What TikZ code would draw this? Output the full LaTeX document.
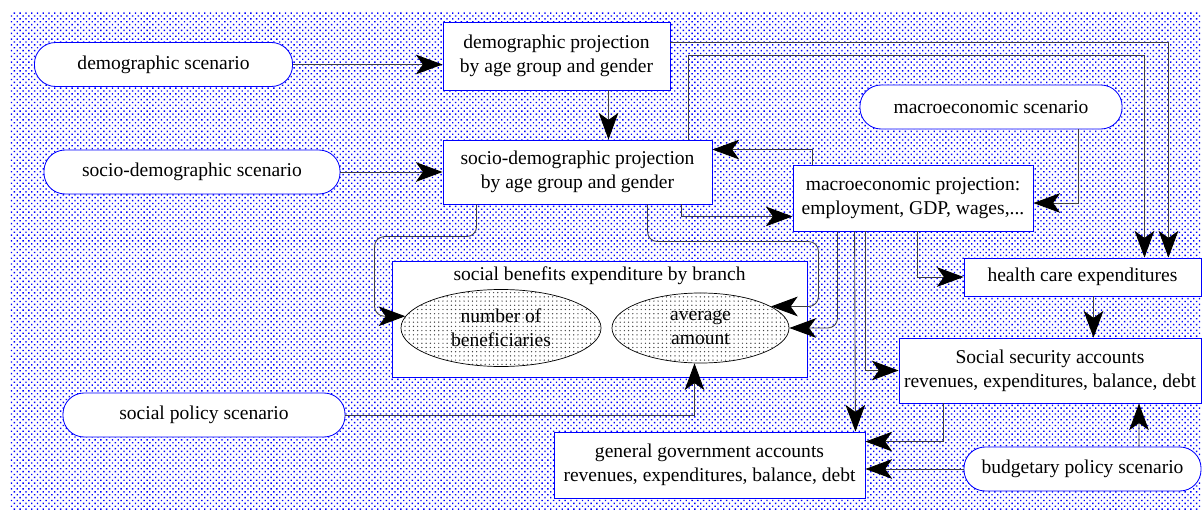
\documentclass[tikz,border=0pt]{standalone}
\usepackage{fontspec}
\setmainfont{Liberation Serif}
\usetikzlibrary{calc,patterns,patterns.meta,shapes.geometric,arrows.meta}

\tikzset{
  scen/.style={draw=blue, line width=0.6pt, fill=white, rounded corners=0.53cm, minimum height=1.1cm, inner sep=0pt},
  proj/.style={draw=blue, line width=0.6pt, fill=white, align=center, inner sep=0pt},
  blob/.style={draw=black, line width=0.5pt, ellipse, pattern=dots, pattern color=black!75, align=center, inner sep=0pt},
  link/.style={draw=black!75, line width=0.6pt, -{Stealth[length=19pt,width=14pt,inset=5pt,black]}},
}

\begin{document}
\begin{tikzpicture}[x=0.025cm, y=-0.025cm, font=\fontsize{13.9}{17}\selectfont]
  %%%%% BACKGROUND %%%%%
  \useasboundingbox (0,0) rectangle (1203,512);
  \fill[pattern={Dots[distance=2.9pt, angle=45, radius=0.7pt]}, pattern color=blue] (10,12) rectangle (1200,510);

  %%%%% SCENARIOS %%%%%
  \node[scen, minimum width=6.45cm] (demsc) at (163.5,64.5) {demographic scenario};
  \node[scen, minimum width=7.4cm] (sdsc) at (192,172) {socio-demographic scenario};
  \node[scen, minimum width=7.05cm] (socpol) at (204,415) {social policy scenario};
  \node[scen, minimum width=6.55cm] (macsc) at (991,107) {macroeconomic scenario};
  \node[scen, minimum width=5.925cm] (budget) at (1082.5,469) {budgetary policy scenario};

  %%%%% PROJECTIONS %%%%%
  \node[proj, minimum width=5.675cm, minimum height=1.7cm] (dproj) at (556.5,56) {demographic projection\\by age group and gender};
  \node[proj, minimum width=6.725cm, minimum height=1.6cm] (sdproj) at (577.5,172) {socio-demographic projection\\by age group and gender};
  \node[proj, minimum width=6cm, minimum height=1.65cm] (macproj) at (913,198) {macroeconomic projection:\\employment, GDP, wages,...};

  %%%%% BENEFITS %%%%%
  \node[proj, minimum width=10.375cm, minimum height=2.9cm] (benef) at (599.5,319) {};
  \node[anchor=north, inner sep=0pt] (beneftitle) at ($(benef.north)+(0,6)$) {social benefits expenditure by branch};
  \node[blob, minimum width=5cm, minimum height=1.925cm] (nbenef) at (501,328) {number of\\beneficiaries};
  \node[blob, minimum width=4.425cm, minimum height=1.75cm] (avgam) at (700.5,328) {average\\amount};

  %%%%% ACCOUNTS %%%%%
  \node[proj, minimum width=5.925cm, minimum height=0.95cm] (health) at (1082.5,277) {health care expenditures};
  \node[proj, minimum width=7.55cm, minimum height=1.625cm] (socsec) at (1050,370.5) {Social security accounts\\revenues, expenditures, balance, debt};
  \node[proj, minimum width=7.775cm, minimum height=1.65cm] (gengov) at (709.5,465) {general government accounts\\revenues, expenditures, balance, debt};

  %%%%% LINKS %%%%%
  \draw[link] (demsc.east) -- (demsc.east -| dproj.west);
  \draw[link] (sdsc.east) -- (sdsc.east -| sdproj.west);
  \draw[link] ($(dproj.south)+(52,0)$) -- ($(sdproj.north)+(31,0)$);
  \draw[link] ($(dproj.north east)+(0,21)$) -| ($(health.north east)+(-33,0)$);
  \draw[link] ($(sdproj.north east)+(-24,0)$) |- ($(health.north east)+(-57,-202)$) -- ($(health.north east)+(-57,0)$);
  \draw[link] ($(macproj.north west)+(20,0)$) |- ($(sdproj.north east)+(0,10)$);
  \draw[link] ($(sdproj.south east)+(-31,0)$) |- ($(macproj.south west)+(0,-15)$);
  \draw[link] ($(macsc.south east)+(-44,0)$) |- ($(macproj.east)+(0,5)$);

  \draw[link, rounded corners=7pt] ($(sdproj.south west)+(34,0)$) |- ($(benef.north west)+(-17,-24)$) |- (nbenef.173);
  \draw[link, rounded corners=7pt] ($(sdproj.south west)+(205,0)$) |- ($(benef.north east)+(11,-19)$) |- (avgam.17);
  \draw[link, rounded corners=7pt] ($(macproj.south west)+(45,0)$) |- (avgam.east);
  \draw[link] (socpol.east) -| ($(avgam.south)+(-6,0)$);

  \draw[link] ($(macproj.south west)+(62,0)$) -- ($(gengov.north east)+(-10,0)$);
  \draw[link] ($(macproj.south west)+(73,0)$) |- (socsec.west);
  \draw[link] ($(macproj.south west)+(125,0)$) |- (health.west);
  \draw[link] ($(health.south)+(11,0)$) -- ($(socsec.north)+(43.5,0)$);
  \draw[link] ($(socsec.south west)+(45,0)$) |- ($(gengov.north east)+(0,10)$);
  \draw[link] (budget.west) -- (budget.west -| gengov.east);
  \draw[link] ($(budget.north)+(56.5,0)$) -- ($(socsec.south)+(89,0)$);
\end{tikzpicture}
\end{document}
